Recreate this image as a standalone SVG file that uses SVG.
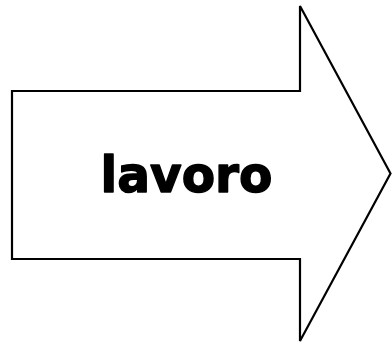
<svg xmlns="http://www.w3.org/2000/svg" width="392" height="347" viewBox="0 0 392 347">
  <style>
    .shape { fill: #ffffff; stroke: #000000; stroke-width: 2.2; stroke-linejoin: miter; }
    .label { font-family: "DejaVu Sans", "Liberation Sans", sans-serif; font-weight: bold; font-size: 49px; fill: #000000; stroke: #000000; stroke-width: 1.4; stroke-linejoin: round; }
  </style>
  <rect width="392" height="347" fill="#ffffff"/>
  <g id="arrow-lavoro">
    <polygon class="shape" points="12,91 300,91 300,6 390.5,173.5 300,341 300,259 12,259"/>
    <text class="label" x="100.5" y="191.5" textLength="172" lengthAdjust="spacingAndGlyphs">lavoro</text>
  </g>
</svg>
